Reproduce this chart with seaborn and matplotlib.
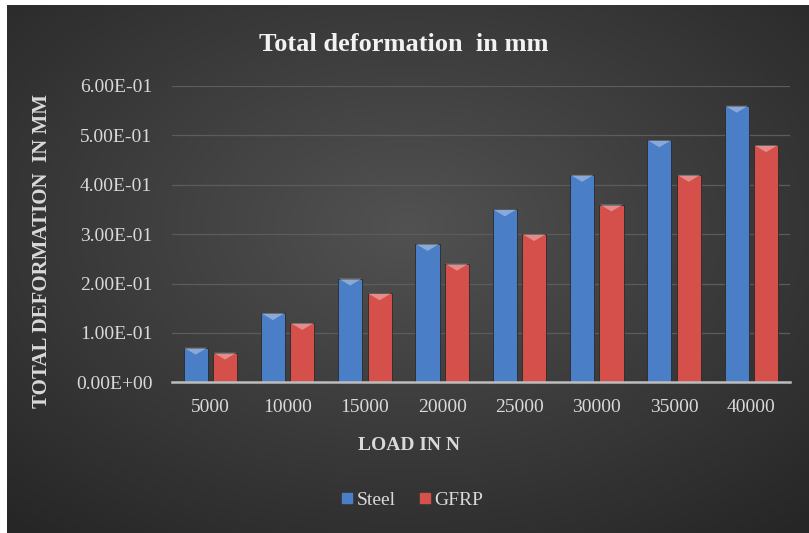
"""
Total deformation vs load: Steel and GFRP (grouped bar chart)
"""

import numpy as np
import pandas as pd
import matplotlib
matplotlib.use('Agg')
import matplotlib.pyplot as plt
from matplotlib.lines import Line2D
from matplotlib.patches import Polygon
from matplotlib.ticker import FuncFormatter
import seaborn as sns

# Data
loads = ['5000', '10000', '15000', '20000', '25000', '30000', '35000', '40000']
steel = [0.07, 0.14, 0.21, 0.28, 0.35, 0.42, 0.49, 0.56]
gfrp = [0.06, 0.12, 0.18, 0.24, 0.30, 0.36, 0.42, 0.48]
series_names = ['Steel', 'GFRP']

BLUE = '#4a7ec6'
RED = '#d54f4b'
TEXT = '#d9d9d9'

df = pd.DataFrame({
    'load': loads * 2,
    'deformation': steel + gfrp,
    'material': [series_names[0]] * len(loads) + [series_names[1]] * len(loads),
})

sns.set_theme(style='dark')
plt.rcParams['font.family'] = ['Liberation Serif', 'DejaVu Serif']

fig = plt.figure(figsize=(8.09, 5.33), dpi=100, facecolor='white')

# dark radial-gradient background (leaves a thin white border top/left)
bg = fig.add_axes([7 / 809, 0, 1 - 7 / 809, 1 - 5 / 533])
yy, xx = np.mgrid[0:1:300j, 0:1:450j]
r = np.sqrt(((xx - 0.5) / 0.75) ** 2 + ((yy - 0.42) / 0.75) ** 2)
r = np.clip(r, 0, 1)
shade = 0.32 - 0.17 * r
bg.imshow(np.dstack([shade, shade, shade]), aspect='auto',
          extent=[0, 1, 0, 1], interpolation='bilinear')
bg.set_axis_off()

ax = fig.add_axes([171.7 / 809, 1 - 382.3 / 533,
                   (790 - 171.7) / 809, (382.3 - 86) / 533])
ax.patch.set_alpha(0)

sns.barplot(data=df, x='load', y='deformation', hue='material',
            order=loads, hue_order=series_names, palette=[BLUE, RED],
            width=0.76, gap=0.18, saturation=1, edgecolor='#2a2a2a',
            linewidth=0.6, ax=ax)

ax.set_ylim(0, 0.6)

# light bevel chevron on top of each bar
for bar in list(ax.patches):
    x0, w, top = bar.get_x(), bar.get_width(), bar.get_height()
    if top <= 0:
        continue
    tri = Polygon([(x0 + 0.02 * w, top), (x0 + 0.98 * w, top),
                   (x0 + w / 2, top - 0.014)], closed=True,
                  facecolor='white', alpha=0.35, edgecolor='none', zorder=3)
    ax.add_patch(tri)

ax.set_yticks(np.arange(0, 0.61, 0.1))
ax.yaxis.set_major_formatter(FuncFormatter(lambda v, p: f'{v:.2E}'))
ax.grid(axis='y', color='#5c5c5c', linewidth=0.9)
ax.grid(axis='x', visible=False)
ax.set_axisbelow(True)
for s in ['top', 'right', 'left']:
    ax.spines[s].set_visible(False)
ax.spines['bottom'].set_color('#bdbdbd')
ax.spines['bottom'].set_linewidth(1.8)

ax.tick_params(axis='both', length=0, colors=TEXT, labelsize=14)
ax.tick_params(axis='y', pad=14)
ax.tick_params(axis='x', pad=12)

ax.set_ylabel('TOTAL DEFORMATION  IN MM', color=TEXT, fontsize=15,
              fontweight='bold')
ax.yaxis.set_label_coords(-0.194, 0.443)
ax.set_xlabel('LOAD IN N', color=TEXT, fontsize=14, fontweight='bold')
ax.xaxis.set_label_coords(0.384, -0.185)

ax.get_legend().remove()

fig.text(0.4994, 1 - 45 / 533, 'Total deformation  in mm', color='#f2f2f2',
         fontsize=19, fontweight='bold', ha='center', va='center')

handles = [Line2D([], [], marker='s', linestyle='none', markersize=7,
                  markerfacecolor=c, markeredgecolor=c) for c in [BLUE, RED]]
fig.legend(handles, series_names, loc='center',
           bbox_to_anchor=(412 / 809, 1 - 500 / 533), ncol=2, frameon=False,
           fontsize=14, labelcolor=TEXT, handlelength=0.6, handletextpad=0.2,
           columnspacing=1.2)

fig.savefig('out.png', dpi=100, facecolor=fig.get_facecolor())
